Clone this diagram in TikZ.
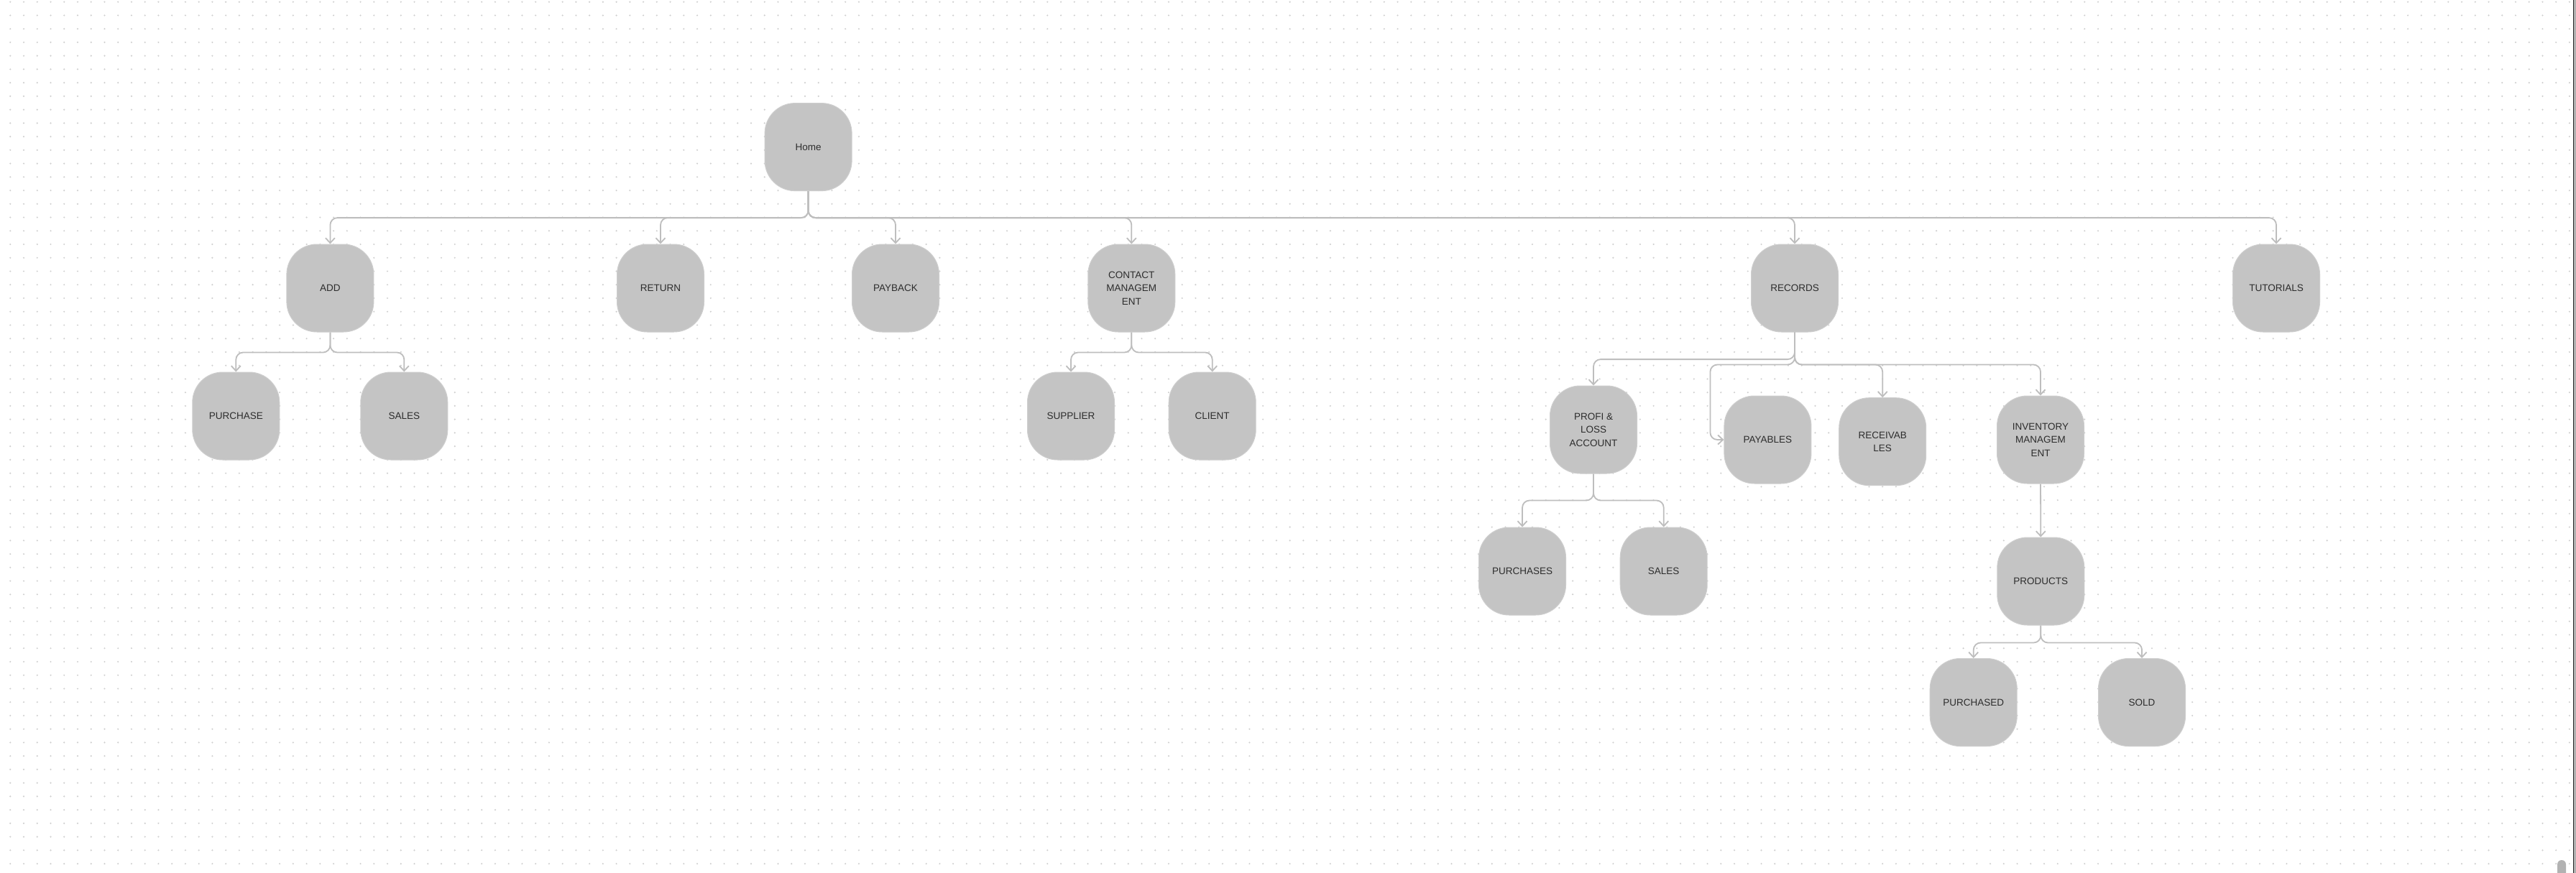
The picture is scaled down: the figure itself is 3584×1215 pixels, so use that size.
\documentclass[tikz,border=0pt]{standalone}
\usepackage{fontspec}
\setmainfont{Liberation Sans}
\usetikzlibrary{arrows.meta}
\definecolor{nodefill}{RGB}{196,196,196}
\definecolor{nodeline}{RGB}{206,206,206}
\definecolor{conncol}{RGB}{190,190,190}
\definecolor{dotcol}{RGB}{208,208,208}
\definecolor{txt}{RGB}{45,45,45}
\definecolor{barline}{RGB}{40,40,40}
\definecolor{bargray}{RGB}{178,178,178}
\begin{document}
\begin{tikzpicture}[x=1pt,y=-1pt,
  box/.style={draw=nodeline, line width=1pt, fill=nodefill, rounded corners=42pt,
    minimum width=121pt, minimum height=122pt, inner sep=0pt, align=center,
    text=txt, font=\fontsize{13.5}{18.5}\selectfont},
  conn/.style={draw=conncol, line width=1.8pt, rounded corners=10pt,
    -{Straight Barb[length=7pt,width=13pt]}},
  dotrow/.style={draw=dotcol, line width=2.4pt, line cap=round, dash pattern=on 0pt off 18.74pt}]
\useasboundingbox (0,0) rectangle (3584,1215);
\fill[white] (0,0) rectangle (3584,1215);
\begin{scope}
\clip (0,0) rectangle (3584,1215);
\foreach \i in {0,...,64} {
  \draw[dotrow] (14.3,{2.7+18.74*\i}) -- (3584,{2.7+18.74*\i});
}
\fill[barline] (3579.6,0) rectangle (3581.2,1215);
\fill[bargray] (3581.2,0) rectangle (3584,1215);
\fill[bargray, rounded corners=6pt] (3558,1197) rectangle (3570,1230);
\end{scope}

% nodes
\node[box] (home) at (1124.6,204.6) {Home};
\node[box] (add) at (459.4,401) {ADD};
\node[box] (ret) at (919,401) {RETURN};
\node[box] (pay) at (1246,401) {PAYBACK};
\node[box] (cm) at (1574.3,401) {CONTACT\\MANAGEM\\ENT};
\node[box] (rec) at (2497,401) {RECORDS};
\node[box] (tut) at (3167,401) {TUTORIALS};
\node[box] (purch) at (328.3,579) {PURCHASE};
\node[box] (sales) at (562.3,579) {SALES};
\node[box] (sup) at (1490,579) {SUPPLIER};
\node[box] (cli) at (1686.7,579) {CLIENT};
\node[box] (pl) at (2217,598) {PROFI \&\\LOSS\\ACCOUNT};
\node[box] (pyb) at (2459.4,612) {PAYABLES};
\node[box] (rcv) at (2619.2,614.7) {RECEIVAB\\LES};
\node[box] (inv) at (2839,612) {INVENTORY\\MANAGEM\\ENT};
\node[box] (purs) at (2118,795) {PURCHASES};
\node[box] (sales2) at (2314.7,795) {SALES};
\node[box] (prod) at (2839.3,809) {PRODUCTS};
\node[box] (pd) at (2745.7,977.5) {PURCHASED};
\node[box] (sold) at (2980,977.5) {SOLD};

% connectors
\foreach \c in {add,ret,pay,cm,rec,tut}
  \draw[conn] (home.south) -- ++(0,37) -| (\c.north);
\foreach \c in {purch,sales}
  \draw[conn] (add.south) -- ++(0,28) -| (\c.north);
\foreach \c in {sup,cli}
  \draw[conn] (cm.south) -- ++(0,28) -| (\c.north);
\draw[conn] (rec.south) -- ++(0,37.6) -| (pl.north);
\draw[conn] (rec.south) -- ++(0,45) -| ([xshift=-19pt]pyb.west) -- (pyb.west);
\draw[conn] (rec.south) -- ++(0,45) -| (rcv.north);
\draw[conn] (rec.south) -- ++(0,45) -| (inv.north);
\foreach \c in {purs,sales2}
  \draw[conn] (pl.south) -- ++(0,37) -| (\c.north);
\draw[conn] (inv.south) -- (prod.north);
\foreach \c in {pd,sold}
  \draw[conn] (prod.south) -- ++(0,24) -| (\c.north);
\end{tikzpicture}
\end{document}
